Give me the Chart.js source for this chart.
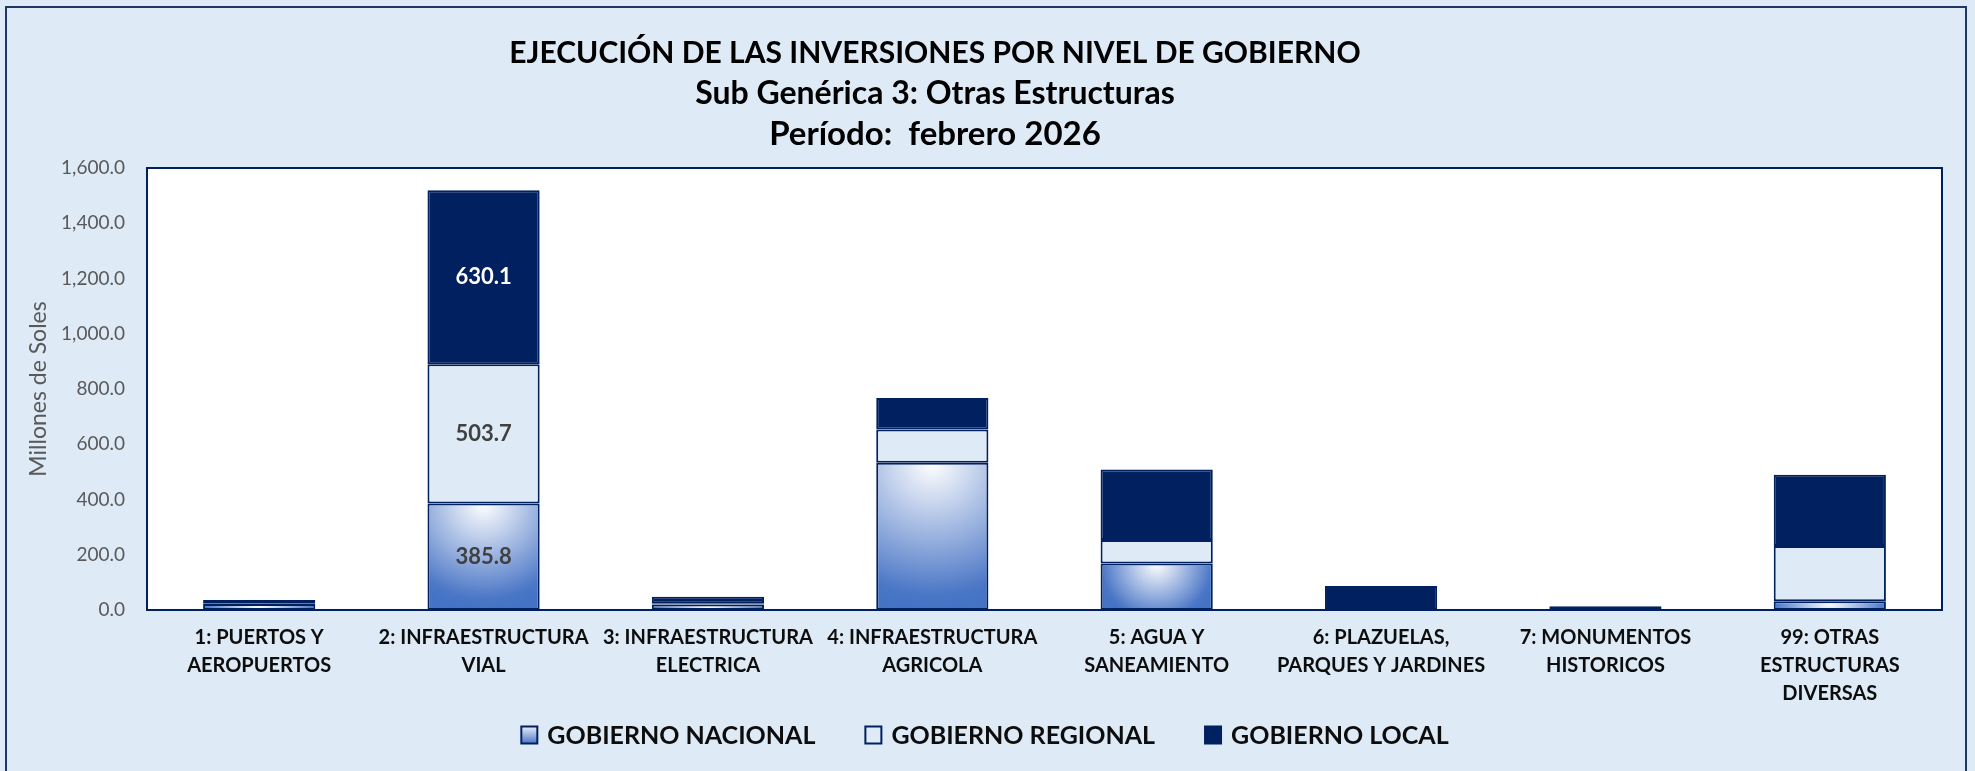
<!DOCTYPE html>
<html lang="es">
<head>
<meta charset="utf-8">
<title>Ejecución de las inversiones por nivel de gobierno</title>
<script src="https://cdn.jsdelivr.net/npm/chart.js"></script>
<style>
  html, body { margin: 0; padding: 0; background: #DEEAF6; }
  #wrap { width: 1975px; height: 771px; position: relative; }
</style>
</head>
<body>
<div id="wrap"><canvas id="grafico"></canvas></div>
<script>
// --- Datos (millones de soles) ---
const categorias = [
    ['1: PUERTOS Y', 'AEROPUERTOS'],
    ['2: INFRAESTRUCTURA', 'VIAL'],
    ['3: INFRAESTRUCTURA', 'ELECTRICA'],
    ['4: INFRAESTRUCTURA', 'AGRICOLA'],
    ['5: AGUA Y', 'SANEAMIENTO'],
    ['6: PLAZUELAS,', 'PARQUES Y JARDINES'],
    ['7: MONUMENTOS', 'HISTORICOS'],
    ['99: OTRAS', 'ESTRUCTURAS', 'DIVERSAS']
];
const gobiernoNacional = [22, 385.8, 20, 533, 168, 0, 0, 32];
const gobiernoRegional = [1, 503.7, 3, 120, 85, 0, 0, 200];
const gobiernoLocal    = [13, 630.1, 25, 114, 256, 87, 14, 258];
const etiquetaCategoria = 1; // solo la barra de infraestructura vial lleva etiquetas

const titulos = [
    'EJECUCIÓN DE LAS INVERSIONES POR NIVEL DE GOBIERNO',
    'Sub Genérica 3: Otras Estructuras',
    'Período:  febrero 2026'
];

// --- Colores ---
const azulOscuro = '#002060';
const fondo = '#DEEAF6';

// degradado radial para gobierno nacional (blanco arriba al centro, azul en los bordes)
function rellenoNacional(ctx) {
    if (ctx.type !== 'data') return '#9AB1E0';
    const chart = ctx.chart;
    if (!chart.chartArea) return '#9AB1E0';
    const xs = chart.scales.x, ys = chart.scales.y;
    const cx = xs.getPixelForValue(ctx.dataIndex);
    const arriba = ys.getPixelForValue(ctx.raw);
    const base = ys.getPixelForValue(0);
    const medio = xs.width / categorias.length * 0.25;
    const r = Math.max(medio * 1.1, base - arriba, 1);
    const g = chart.ctx.createRadialGradient(cx, arriba, 0, cx, arriba, r);
    g.addColorStop(0, '#FFFFFF');
    g.addColorStop(0.9, '#4A76C6');
    g.addColorStop(1, '#4472C4');
    return g;
}

// fondo, área de trazado, bordes, título y leyenda
const marco = {
    id: 'marco',
    beforeDraw(chart) {
        const { ctx, chartArea: a } = chart;
        ctx.save();
        ctx.fillStyle = fondo;
        ctx.fillRect(0, 0, chart.width, chart.height);
        ctx.fillStyle = '#FFFFFF';
        ctx.fillRect(a.left, a.top, a.right - a.left, a.bottom - a.top);
        ctx.strokeStyle = '#1F3864';
        ctx.lineWidth = 2;
        ctx.strokeRect(6, 7, chart.width - 15, chart.height);
        ctx.restore();
    },
    beforeDatasetsDraw(chart) {
        const { ctx, chartArea: a } = chart;
        ctx.save();
        ctx.strokeStyle = azulOscuro;
        ctx.lineWidth = 2;
        ctx.strokeRect(a.left, a.top, a.right - a.left, a.bottom - a.top);
        ctx.restore();
    },
    afterDraw(chart) {
        const ctx = chart.ctx;
        ctx.save();
        // título
        ctx.fillStyle = '#000000';
        ctx.textAlign = 'center';
        ctx.textBaseline = 'middle';
        const ys = [53, 94, 134];
        const tam = [30, 32, 33];
        titulos.forEach((t, i) => {
            ctx.font = 'bold ' + tam[i] + 'px Lato';
            ctx.fillText(t, 935, ys[i]);
        });

        // leyenda
        ctx.font = 'bold 25px Lato';
        ctx.textAlign = 'left';
        const caja = 16, sep = 10, hueco = 50, yl = 735;
        const items = chart.data.datasets.map(d => d.label);
        const anchos = items.map(t => caja + sep + ctx.measureText(t).width);
        const total = anchos.reduce((s, w) => s + w, 0) + hueco * (items.length - 1);
        let x = 985 - total / 2;
        items.forEach((t, i) => {
            let relleno;
            if (i === 0) {
                relleno = ctx.createLinearGradient(0, yl - 8, 0, yl + 9);
                relleno.addColorStop(0, '#E4E9F7');
                relleno.addColorStop(1, '#4472C4');
            } else {
                relleno = chart.data.datasets[i].backgroundColor;
            }
            ctx.fillStyle = relleno;
            ctx.fillRect(x, yl - 8.5, caja, 17);
            ctx.strokeStyle = azulOscuro;
            ctx.lineWidth = 2;
            ctx.strokeRect(x, yl - 8.5, caja, 17);
            ctx.fillStyle = '#0D0D0D';
            ctx.fillText(t, x + caja + sep, yl + 1);
            x += anchos[i] + hueco;
        });
        ctx.restore();
    }
};

// etiquetas de valores dentro de los segmentos
const etiquetas = {
    id: 'etiquetas',
    afterDatasetsDraw(chart) {
        const ctx = chart.ctx;
        const colores = ['#404040', '#404040', '#FFFFFF'];
        ctx.save();
        ctx.font = 'bold 22px Lato';
        ctx.textAlign = 'center';
        ctx.textBaseline = 'middle';
        chart.data.datasets.forEach((ds, i) => {
            const el = chart.getDatasetMeta(i).data[etiquetaCategoria];
            const v = ds.data[etiquetaCategoria];
            if (!el || !v) return;
            ctx.fillStyle = colores[i];
            ctx.fillText(v.toFixed(1), el.x, (el.y + el.base) / 2);
        });
        ctx.restore();
    }
};

new Chart(document.getElementById('grafico'), {
    type: 'bar',
    data: {
        labels: categorias,
        datasets: [
            { label: 'GOBIERNO NACIONAL', data: gobiernoNacional, backgroundColor: rellenoNacional },
            { label: 'GOBIERNO REGIONAL', data: gobiernoRegional, backgroundColor: fondo },
            { label: 'GOBIERNO LOCAL', data: gobiernoLocal, backgroundColor: azulOscuro }
        ]
    },
    options: {
        responsive: true,
        maintainAspectRatio: false,
        animation: false,
        datasets: {
            bar: {
                borderColor: azulOscuro,
                borderWidth: 2,
                borderSkipped: false,
                categoryPercentage: 0.5,
                barPercentage: 1
            }
        },
        layout: { padding: { top: 168, left: 33, right: 33, bottom: 61 } },
        scales: {
            x: {
                stacked: true,
                grid: { display: false, drawTicks: false },
                border: { display: false },
                ticks: {
                    autoSkip: false,
                    maxRotation: 0,
                    padding: 14,
                    color: '#0D0D0D',
                    font: { family: 'Lato', size: 20, weight: 'bold', lineHeight: 1.4 }
                },
                afterFit(scale) { scale.height = 100; }
            },
            y: {
                stacked: true,
                min: 0,
                max: 1600,
                grid: { display: false, drawTicks: false },
                border: { display: false },
                ticks: {
                    stepSize: 200,
                    padding: 22,
                    color: '#595959',
                    font: { family: 'Lato', size: 19 },
                    callback: v => v.toLocaleString('en-US', { minimumFractionDigits: 1, maximumFractionDigits: 1 })
                },
                title: {
                    display: true,
                    text: 'Millones de Soles',
                    color: '#595959',
                    font: { family: 'Lato', size: 23 },
                    padding: { top: -8, bottom: 0 }
                },
                afterFit(scale) { scale.width = 114; }
            }
        },
        plugins: {
            legend: { display: false },
            tooltip: { enabled: false }
        }
    },
    plugins: [marco, etiquetas]
});
</script>
</body>
</html>
